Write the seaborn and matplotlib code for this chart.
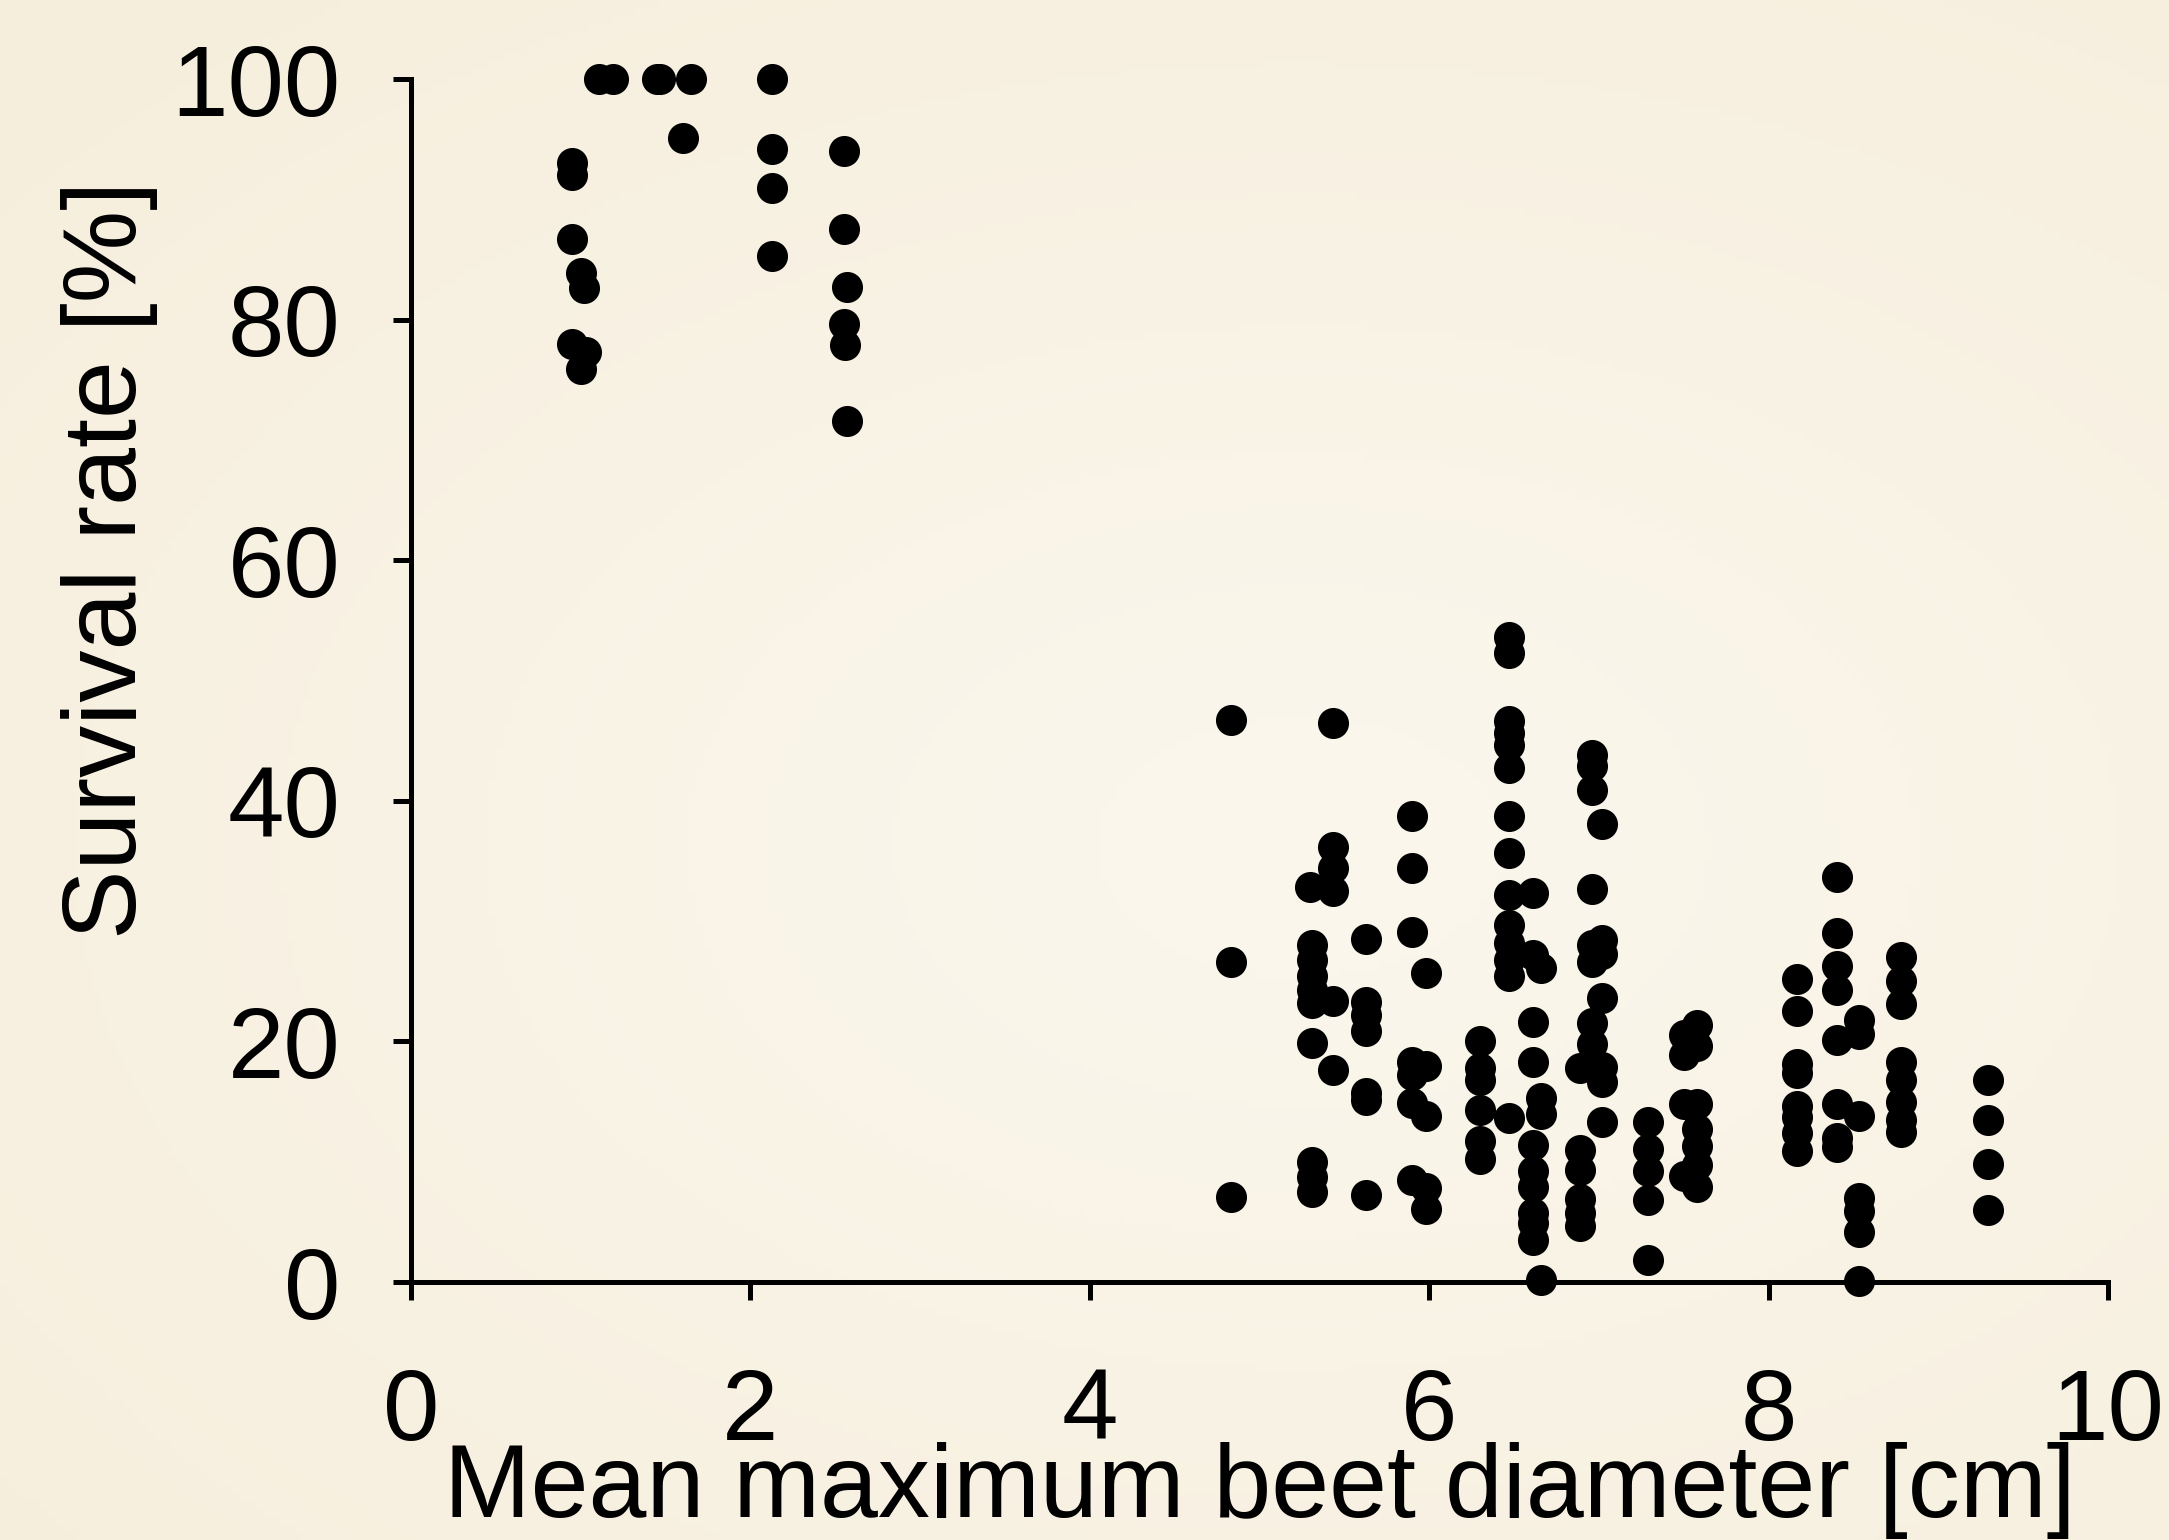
import numpy as np
import pandas as pd
import matplotlib
matplotlib.use("Agg")
import matplotlib.pyplot as plt
import seaborn as sns

# ---- data ----
small_beet_diameter = [1.11, 1.19, 1.45, 1.47, 1.65, 1.60,
                       0.95, 0.95, 0.95, 0.95, 1.00, 1.00, 1.02, 1.03,
                       2.13, 2.13, 2.13, 2.13,
                       2.55, 2.55, 2.57, 2.55, 2.56, 2.57]
small_beet_survival = [100, 100, 100, 100, 100, 95.1,
                       93.0, 92.0, 86.7, 78.0, 83.9, 75.9, 82.6, 77.3,
                       100, 94.2, 90.9, 85.3,
                       94.0, 87.5, 82.7, 79.6, 77.9, 71.6]

large_beet_diameter = (
    [4.83] * 3
    + [5.30] + [5.31] * 9
    + [5.43] * 6
    + [5.63] * 7
    + [5.90] * 7
    + [5.98] * 5
    + [6.30] * 6
    + [6.47] * 14
    + [6.61] * 10
    + [6.66] * 4
    + [6.89] * 6
    + [6.96] * 8
    + [7.02] * 7
    + [7.29] * 5
    + [7.50] * 4
    + [7.58] * 7
    + [8.17] * 8
    + [8.40] * 8
    + [8.53] * 7
    + [8.78] * 8
    + [9.29] * 4
)
large_beet_survival = (
    [46.7, 26.6, 7.1]
    + [32.8, 28.0, 26.8, 25.4, 24.3, 23.2, 19.9, 10.0, 8.7, 7.5]
    + [46.5, 36.2, 34.4, 32.5, 23.4, 17.6]
    + [28.5, 23.3, 22.2, 20.9, 15.7, 15.1, 7.2]
    + [38.7, 34.4, 29.1, 18.3, 17.2, 14.9, 8.5]
    + [25.7, 18.0, 13.8, 7.8, 6.1]
    + [20.0, 17.8, 16.8, 14.3, 11.7, 10.2]
    + [53.6, 52.3, 46.6, 45.6, 44.6, 42.7, 38.7, 35.7, 32.2, 29.7, 28.2, 26.8, 25.4, 13.6]
    + [32.3, 27.2, 21.6, 18.3, 11.4, 9.2, 7.9, 5.7, 4.9, 3.5]
    + [26.1, 15.3, 14.0, 0.2]
    + [17.8, 11.0, 9.3, 6.9, 5.7, 4.7]
    + [43.8, 42.9, 40.9, 32.7, 28.0, 26.6, 21.5, 19.8]
    + [38.1, 28.4, 27.3, 23.6, 17.9, 16.6, 13.3]
    + [13.3, 11.1, 9.2, 6.8, 1.8]
    + [20.5, 18.9, 14.8, 8.8]
    + [21.4, 19.6, 14.8, 12.7, 11.3, 9.7, 7.9]
    + [25.2, 22.5, 18.1, 17.4, 14.6, 13.7, 12.4, 10.9]
    + [33.7, 29.0, 26.3, 24.3, 20.1, 14.8, 12.0, 11.2]
    + [21.8, 20.6, 13.8, 7.0, 5.9, 4.2, 0.1]
    + [27.0, 25.0, 23.1, 18.3, 16.8, 15.0, 13.5, 12.5]
    + [16.8, 13.5, 9.8, 6.0]
)

x_ticks = [0, 2, 4, 6, 8, 10]
y_ticks = [0, 20, 40, 60, 80, 100]
x_label = "Mean maximum beet diameter [cm]"
y_label = "Survival rate [%]"

df = pd.DataFrame({
    "diameter": small_beet_diameter + large_beet_diameter,
    "survival": small_beet_survival + large_beet_survival,
})

# ---- style ----
sns.set_theme(style="ticks")
plt.rcParams["font.family"] = ["Liberation Sans", "DejaVu Sans"]

fig = plt.figure(figsize=(21.69, 15.40), dpi=100)

# soft cream radial background
bg = fig.add_axes([0, 0, 1, 1], zorder=-10)
ny, nx = 200, 280
yy, xx = np.mgrid[0:1:ny * 1j, 0:1:nx * 1j]
r = np.sqrt(((xx - 0.6) / 1.0) ** 2 + ((yy - 0.55) / 0.9) ** 2)
r = np.clip(r / 0.85, 0, 1)
c_center = np.array([251, 247, 237]) / 255.0
c_edge = np.array([246, 238, 220]) / 255.0
img = c_center[None, None, :] * (1 - r[..., None]) + c_edge[None, None, :] * r[..., None]
bg.imshow(img, extent=[0, 1, 0, 1], aspect="auto", origin="upper")
bg.set_axis_off()

ax = fig.add_axes([0.1895, 0.1675, 0.7824, 0.7812])
ax.patch.set_alpha(0)

sns.scatterplot(data=df, x="diameter", y="survival", ax=ax, color="black",
                s=500, linewidth=0, clip_on=False, legend=False, zorder=5)

ax.set_xlim(0, 10)
ax.set_ylim(0, 100)
ax.set_xticks(x_ticks)
ax.set_yticks(y_ticks)
ax.set_xticklabels([str(t) for t in x_ticks])
ax.set_yticklabels([str(t) for t in y_ticks])

for side in ["top", "right"]:
    ax.spines[side].set_visible(False)
for side in ["left", "bottom"]:
    ax.spines[side].set_linewidth(3.6)
    ax.spines[side].set_color("black")

ax.tick_params(axis="both", direction="out", length=13, width=3.6,
               colors="black", labelsize=73)
ax.tick_params(axis="x", pad=48)
ax.tick_params(axis="y", pad=38)

ax.set_xlabel(x_label, fontsize=75, color="black")
ax.set_ylabel(y_label, fontsize=75, color="black")
ax.xaxis.set_label_coords(0.5, -0.133)
ax.yaxis.set_label_coords(-0.149, 0.60)

fig.savefig("out.png", dpi=100)
